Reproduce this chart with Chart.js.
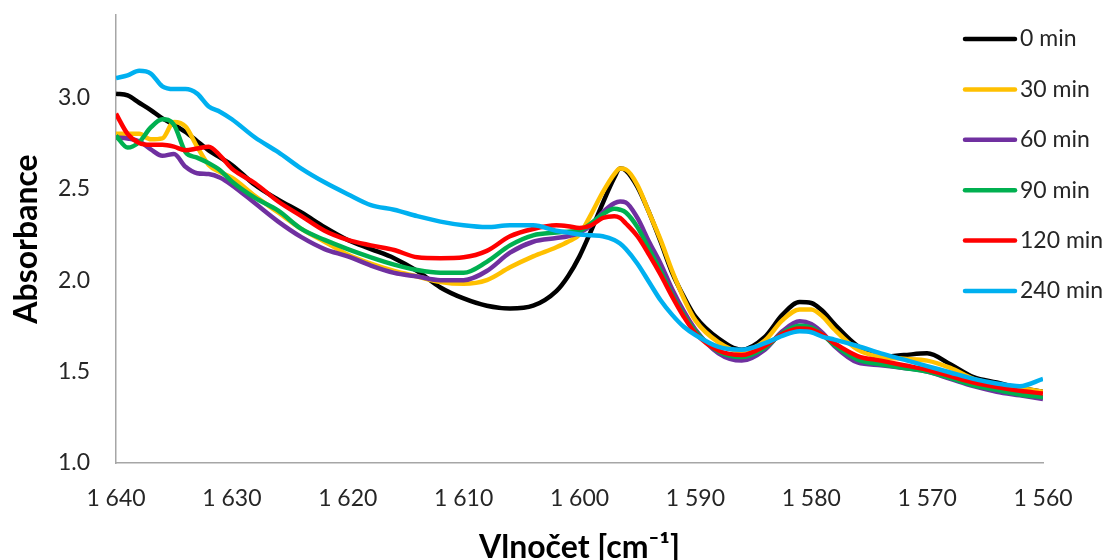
<!DOCTYPE html>
<html>
<head>
<meta charset="utf-8">
<script src="https://cdn.jsdelivr.net/npm/chart.js@4"></script>
<style>
    body { margin: 0; background: #fff; }
    #wrap { width: 1110px; height: 560px; }
</style>
</head>
<body>
<div id="wrap"><canvas id="myChart" width="1110" height="560"></canvas></div>
<script>
// wavenumbers (cm-1), shared by all series
const WAVENUMBER = [1640, 1639, 1638, 1637, 1636, 1635, 1634, 1633, 1632, 1631, 1630, 1628, 1626, 1624, 1622, 1620, 1618, 1616, 1614, 1612, 1610, 1608, 1606, 1604, 1602, 1601, 1600, 1599, 1598, 1597, 1596.5, 1596, 1595, 1594, 1593, 1592, 1591, 1590, 1588, 1586, 1584, 1582.5, 1581, 1580, 1579, 1578, 1576, 1574, 1572, 1570, 1568, 1566, 1564, 1562, 1560];

const SERIES_LABELS = ["0 min", "30 min", "60 min", "90 min", "120 min", "240 min"];
const SERIES_COLORS = ["#000000", "#FFC000", "#7030A0", "#00B050", "#FF0000", "#00B0F0"];

const abs0 = [3.02, 3.01, 2.97, 2.93, 2.885, 2.85, 2.81, 2.76, 2.71, 2.67, 2.63, 2.52, 2.44, 2.37, 2.29, 2.22, 2.17, 2.12, 2.05, 1.96, 1.90, 1.86, 1.845, 1.86, 1.94, 2.02, 2.13, 2.27, 2.42, 2.56, 2.61, 2.60, 2.51, 2.37, 2.21, 2.04, 1.91, 1.80, 1.68, 1.62, 1.69, 1.81, 1.88, 1.875, 1.83, 1.76, 1.64, 1.58, 1.59, 1.60, 1.54, 1.47, 1.44, 1.41, 1.39];
const abs30 = [2.80, 2.80, 2.80, 2.77, 2.775, 2.865, 2.84, 2.73, 2.63, 2.59, 2.56, 2.46, 2.37, 2.28, 2.21, 2.14, 2.09, 2.05, 2.02, 1.99, 1.98, 2.00, 2.07, 2.13, 2.18, 2.21, 2.25, 2.36, 2.48, 2.58, 2.61, 2.605, 2.52, 2.37, 2.22, 2.05, 1.90, 1.78, 1.66, 1.61, 1.67, 1.78, 1.84, 1.84, 1.80, 1.73, 1.62, 1.58, 1.57, 1.56, 1.52, 1.46, 1.43, 1.41, 1.39];
const abs60 = [2.78, 2.775, 2.76, 2.715, 2.68, 2.69, 2.62, 2.585, 2.58, 2.56, 2.52, 2.42, 2.32, 2.235, 2.17, 2.13, 2.08, 2.04, 2.02, 2.00, 2.00, 2.05, 2.15, 2.21, 2.23, 2.24, 2.26, 2.30, 2.37, 2.42, 2.43, 2.425, 2.34, 2.21, 2.09, 1.95, 1.83, 1.73, 1.60, 1.56, 1.62, 1.72, 1.775, 1.76, 1.71, 1.64, 1.55, 1.535, 1.52, 1.50, 1.46, 1.42, 1.39, 1.37, 1.35];
const abs90 = [2.79, 2.725, 2.755, 2.835, 2.88, 2.85, 2.70, 2.67, 2.64, 2.60, 2.54, 2.45, 2.38, 2.28, 2.22, 2.17, 2.125, 2.085, 2.055, 2.04, 2.04, 2.10, 2.19, 2.245, 2.26, 2.265, 2.27, 2.31, 2.36, 2.39, 2.385, 2.37, 2.29, 2.17, 2.05, 1.92, 1.81, 1.72, 1.61, 1.58, 1.63, 1.71, 1.75, 1.74, 1.70, 1.645, 1.565, 1.54, 1.52, 1.50, 1.465, 1.425, 1.40, 1.375, 1.36];
const abs120 = [2.91, 2.80, 2.75, 2.74, 2.74, 2.73, 2.71, 2.72, 2.73, 2.68, 2.61, 2.53, 2.43, 2.35, 2.27, 2.22, 2.19, 2.165, 2.125, 2.12, 2.125, 2.16, 2.24, 2.28, 2.30, 2.295, 2.285, 2.30, 2.34, 2.35, 2.34, 2.31, 2.24, 2.14, 2.03, 1.91, 1.80, 1.71, 1.615, 1.59, 1.64, 1.705, 1.735, 1.73, 1.70, 1.655, 1.585, 1.56, 1.535, 1.51, 1.475, 1.44, 1.415, 1.395, 1.38];
const abs240 = [3.105, 3.12, 3.145, 3.13, 3.06, 3.045, 3.045, 3.02, 2.95, 2.92, 2.88, 2.78, 2.70, 2.61, 2.535, 2.47, 2.41, 2.385, 2.35, 2.32, 2.30, 2.29, 2.30, 2.30, 2.27, 2.26, 2.25, 2.245, 2.24, 2.22, 2.20, 2.17, 2.09, 1.99, 1.89, 1.81, 1.745, 1.70, 1.635, 1.62, 1.655, 1.695, 1.72, 1.715, 1.69, 1.675, 1.64, 1.60, 1.565, 1.53, 1.495, 1.46, 1.435, 1.42, 1.46];

const X_TICKS = [1640, 1630, 1620, 1610, 1600, 1590, 1580, 1570, 1560];
const Y_TICKS = [1.0, 1.5, 2.0, 2.5, 3.0];

const SERIES = [abs0, abs30, abs60, abs90, abs120, abs240];
const FONT = "Lato, 'Liberation Sans', sans-serif";

// legend drawn inside the plot, top right, like the excel one
const insideLegend = {
    id: 'insideLegend',
    afterDraw(chart) {
        const ctx = chart.ctx;
        ctx.save();
        chart.data.datasets.forEach(function (ds, i) {
            const y = 39 + i * 50.4;
            ctx.strokeStyle = ds.borderColor;
            ctx.lineWidth = 4.5;
            ctx.lineCap = 'round';
            ctx.beginPath();
            ctx.moveTo(965, y);
            ctx.lineTo(1015, y);
            ctx.stroke();
            ctx.fillStyle = '#262626';
            ctx.font = "23px " + FONT;
            ctx.textBaseline = 'middle';
            ctx.textAlign = 'left';
            ctx.fillText(ds.label, 1020, y);
        });
        ctx.restore();
    }
};

const datasets = SERIES.map(function (vals, i) {
    return {
        label: SERIES_LABELS[i],
        data: vals.map(function (v, j) { return { x: WAVENUMBER[j], y: v }; }),
        borderColor: SERIES_COLORS[i],
        backgroundColor: SERIES_COLORS[i],
        borderWidth: 4.5,
        pointRadius: 0,
        cubicInterpolationMode: 'monotone',
        order: SERIES.length - i
    };
});

function fmtThousands(v) {
    const s = String(Math.round(v));
    return s.length > 3 ? s.slice(0, s.length - 3) + " " + s.slice(-3) : s;
}

const ctx = document.getElementById('myChart');
const myChart = new Chart(ctx, {
    type: 'line',
    data: { datasets: datasets },
    options: {
        responsive: false,
        animation: false,
        layout: { padding: { top: 15, right: 67, bottom: 0, left: 0 } },
        plugins: {
            legend: { display: false },
            tooltip: { enabled: false }
        },
        scales: {
            x: {
                type: 'linear',
                reverse: true,
                min: 1560,
                max: 1640,
                afterBuildTicks: function (axis) {
                    axis.ticks = X_TICKS.map(function (v) { return { value: v }; });
                },
                afterFit: function (axis) {
                    axis.height = 97;
                    axis.paddingLeft = 0;
                    axis.paddingRight = 0;
                },
                grid: { display: false, drawTicks: false },
                border: { display: true, color: '#A6A6A6', width: 1.5 },
                ticks: {
                    padding: 22,
                    color: '#262626',
                    font: { family: FONT, size: 23 },
                    maxRotation: 0,
                    callback: function (v) { return fmtThousands(v); }
                },
                title: {
                    display: true,
                    text: 'Vlnočet [cm⁻¹]',
                    color: '#000',
                    font: { family: FONT, size: 32, weight: 'bold', lineHeight: 0.75 },
                    padding: { top: 0, bottom: 0 }
                }
            },
            y: {
                min: 1,
                max: 3.45,
                afterBuildTicks: function (axis) {
                    axis.ticks = Y_TICKS.map(function (v) { return { value: v }; });
                },
                afterFit: function (axis) {
                    axis.width = 116;
                    axis.paddingTop = 0;
                    axis.paddingBottom = 0;
                },
                grid: { display: false, drawTicks: false },
                border: { display: true, color: '#A6A6A6', width: 1.5 },
                ticks: {
                    padding: 26,
                    color: '#262626',
                    font: { family: FONT, size: 23 },
                    callback: function (v) { return v.toFixed(1); }
                },
                title: {
                    display: true,
                    text: 'Absorbance',
                    color: '#000',
                    font: { family: FONT, size: 32, weight: 'bold', lineHeight: 1 },
                    padding: { top: 11, bottom: 0 }
                }
            }
        }
    },
    plugins: [insideLegend]
});
</script>
</body>
</html>
